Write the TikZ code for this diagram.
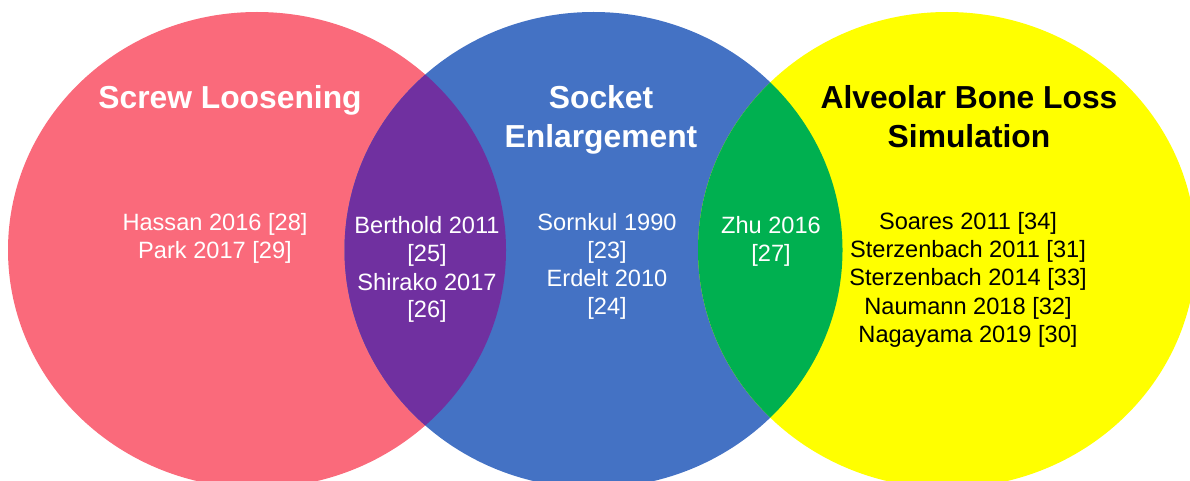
\documentclass[tikz,border=0pt]{standalone}
\usepackage{fontspec}
\setmainfont{Liberation Sans}
\definecolor{pinkc}{HTML}{FA6A7B}
\definecolor{bluec}{HTML}{4472C4}
\definecolor{yellowc}{HTML}{FFFF00}
\definecolor{purplec}{HTML}{7030A0}
\definecolor{greenc}{HTML}{00B050}
\begin{document}
\begin{tikzpicture}[x=1pt,y=-1pt,
  settitle/.style={font=\fontsize{31.8}{39}\selectfont\bfseries, anchor=base, inner sep=0pt},
  setbody/.style={font=\fontsize{23.6}{28}\selectfont, anchor=base, inner sep=0pt},
  oval/.style={x radius=249pt, y radius=238pt}]
\useasboundingbox (0,0) rectangle (1190,481);
\begin{scope}
  \clip (0,0) rectangle (1190,481);
  \fill[pinkc] (257,250) ellipse [oval];
  \fill[bluec] (593.5,250) ellipse [oval];
  \fill[yellowc] (947,250) ellipse [oval];
  \begin{scope}
    \clip (257,250) ellipse [oval];
    \fill[purplec] (593.5,250) ellipse [oval];
  \end{scope}
  \begin{scope}
    \clip (593.5,250) ellipse [oval];
    \fill[greenc] (947,250) ellipse [oval];
  \end{scope}
\end{scope}
% titles
\node[settitle, text=white] (t1) at (230,109) {Screw Loosening};
\node[settitle, text=white] (t2a) at (601,109) {Socket};
\node[settitle, text=white] (t2b) at (601,148) {Enlargement};
\node[settitle, text=black] (t3a) at (969,109) {Alveolar Bone Loss};
\node[settitle, text=black] (t3b) at (969,148) {Simulation};
% left
\node[setbody, text=white] (a1) at (215,230) {Hassan 2016 [28]};
\node[setbody, text=white] (a2) at (215,258) {Park 2017 [29]};
% purple
\node[setbody, text=white] (b1) at (427,233) {Berthold 2011};
\node[setbody, text=white] (b2) at (427,261) {[25]};
\node[setbody, text=white] (b3) at (427,290) {Shirako 2017};
\node[setbody, text=white] (b4) at (427,317) {[26]};
% blue
\node[setbody, text=white] (c1) at (607,230) {Sornkul 1990};
\node[setbody, text=white] (c2) at (607,258) {[23]};
\node[setbody, text=white] (c3) at (607,286) {Erdelt 2010};
\node[setbody, text=white] (c4) at (607,314) {[24]};
% green
\node[setbody, text=white] (d1) at (771,233) {Zhu 2016};
\node[setbody, text=white] (d2) at (771,261) {[27]};
% yellow
\node[setbody, text=black] (e1) at (968,229) {Soares 2011 [34]};
\node[setbody, text=black] (e2) at (968,257) {Sterzenbach 2011 [31]};
\node[setbody, text=black] (e3) at (968,285) {Sterzenbach 2014 [33]};
\node[setbody, text=black] (e4) at (968,314) {Naumann 2018 [32]};
\node[setbody, text=black] (e5) at (968,342) {Nagayama 2019 [30]};
\end{tikzpicture}
\end{document}
